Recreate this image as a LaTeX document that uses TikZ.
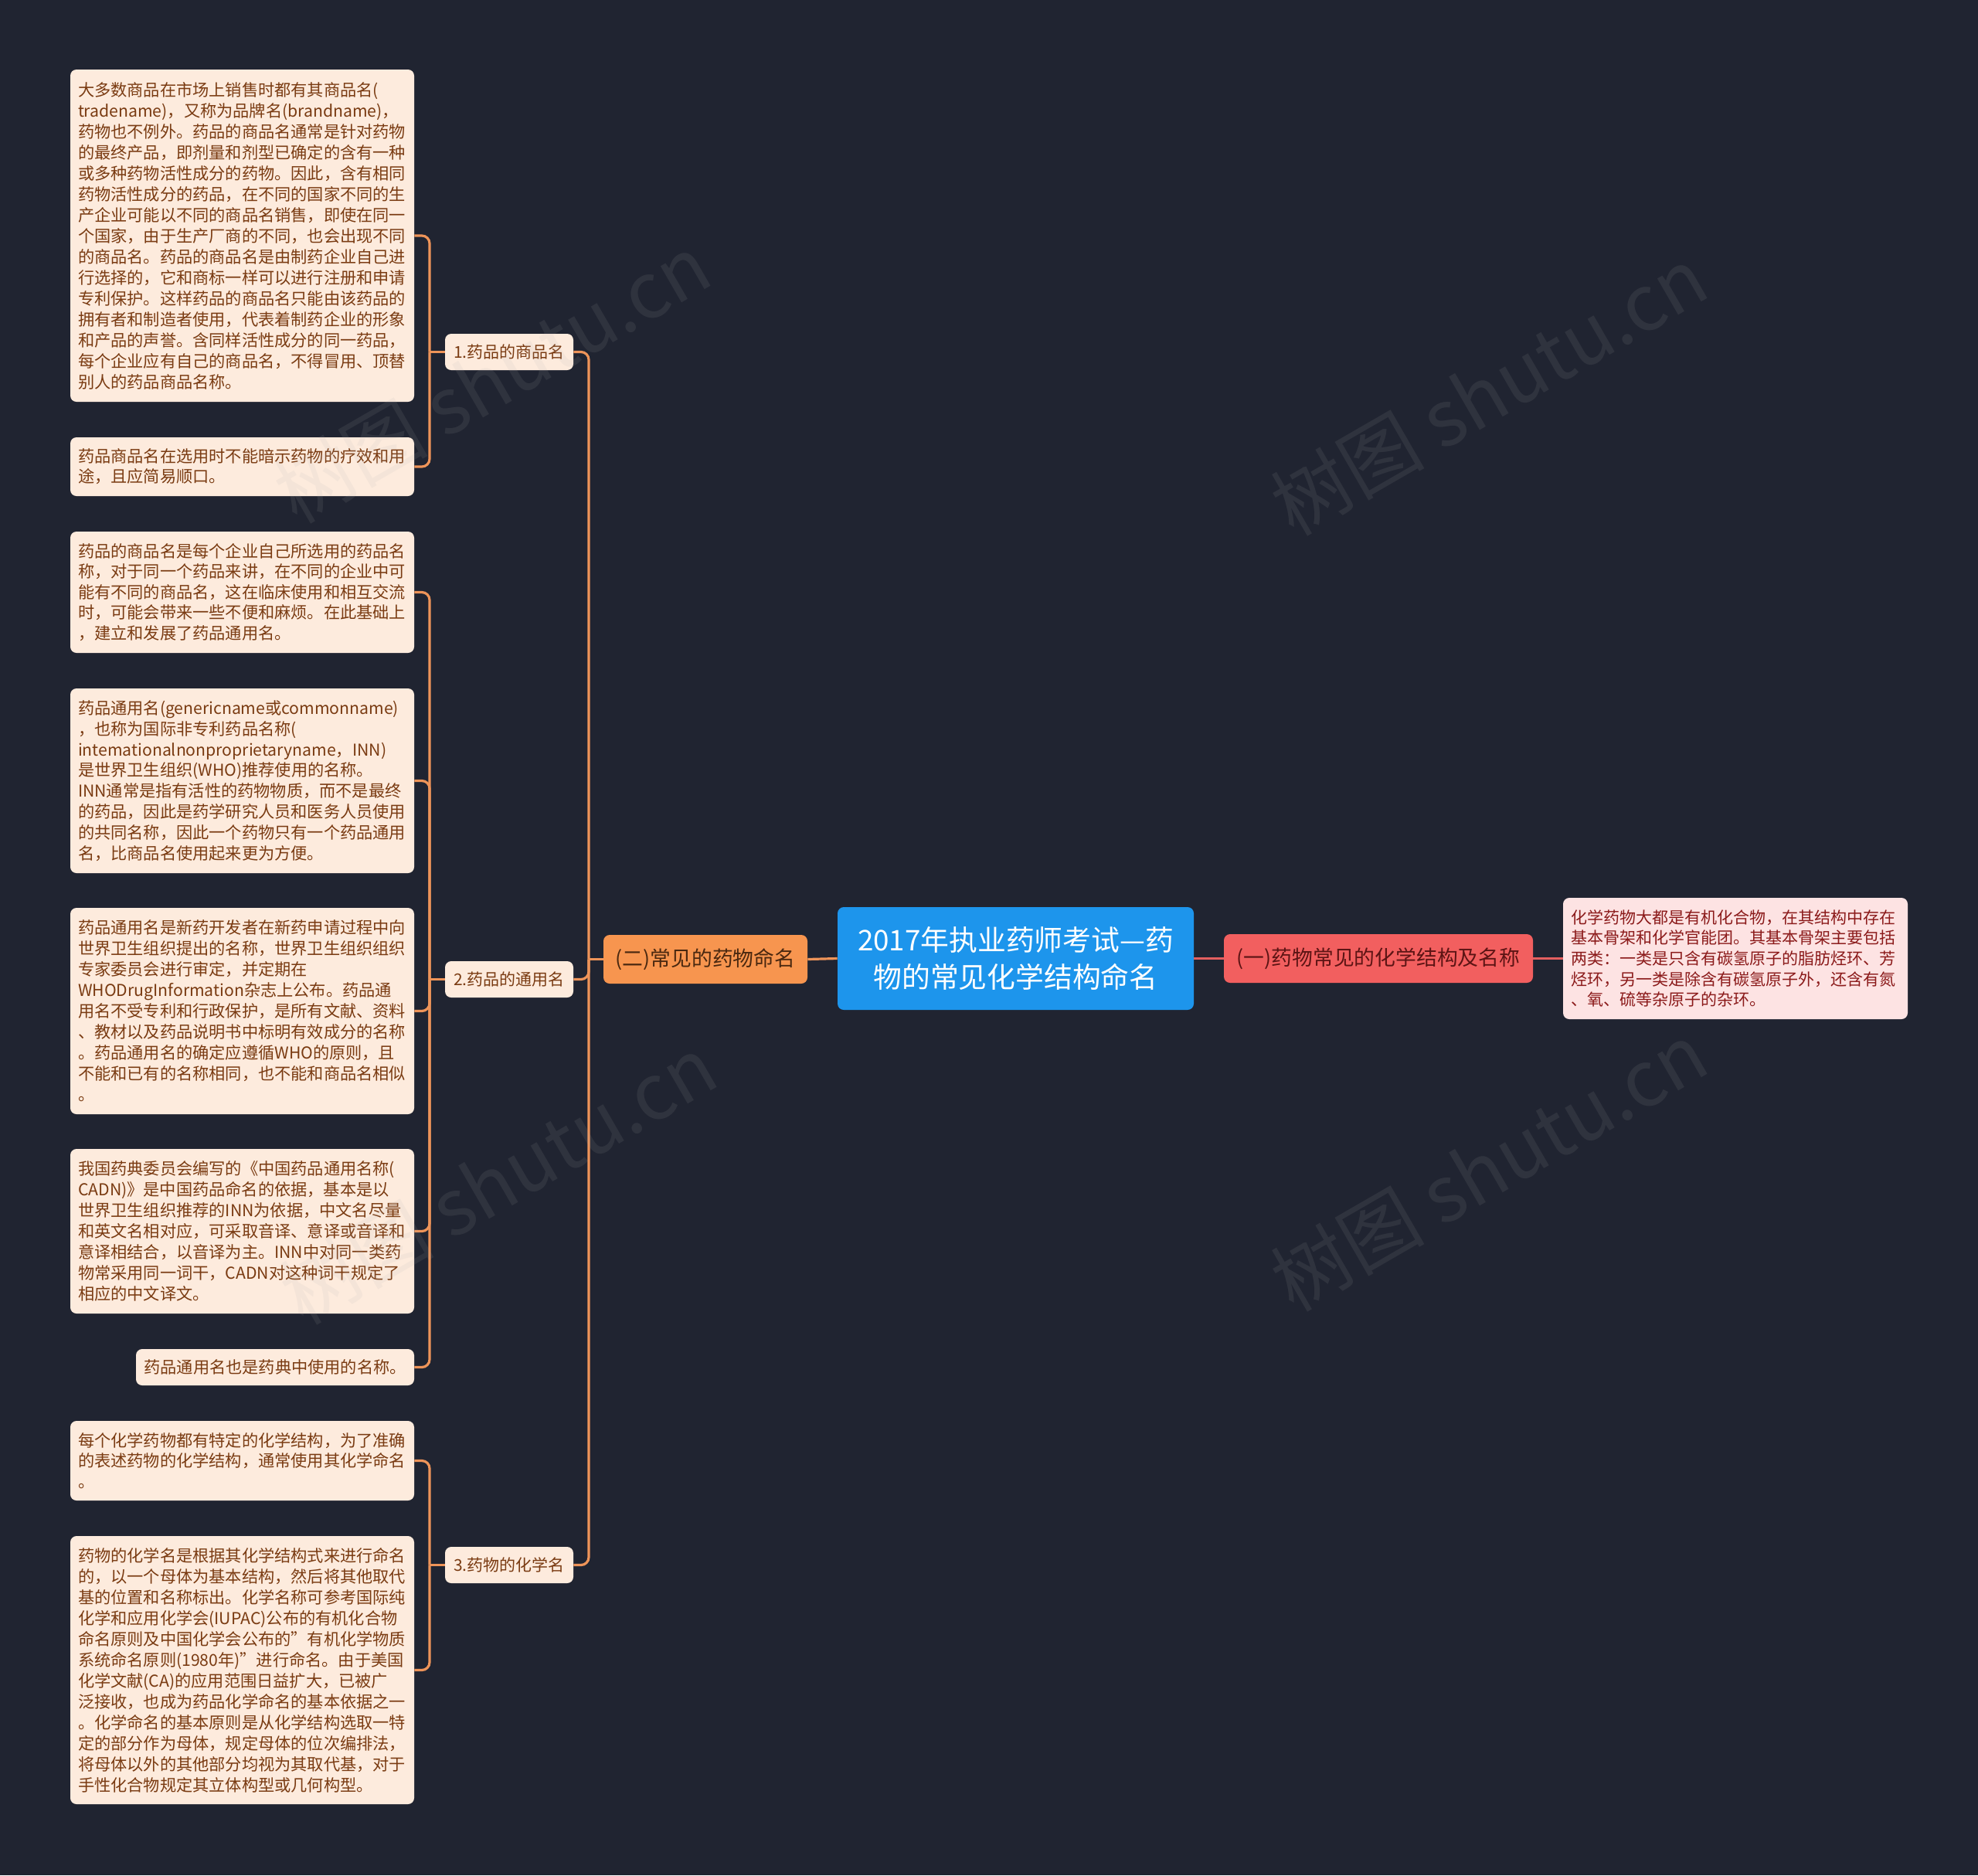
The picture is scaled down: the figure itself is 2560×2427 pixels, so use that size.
\documentclass[tikz,border=0pt]{standalone}
\usepackage{fontspec}
\setmainfont{Noto Sans CJK SC}
\definecolor{bg}{HTML}{202431}
\definecolor{leaffill}{HTML}{FDEBDD}
\definecolor{leaftext}{HTML}{7A3B12}
\definecolor{onode}{HTML}{F7954F}
\definecolor{otext}{HTML}{4A2810}
\definecolor{oline}{HTML}{EE9459}
\definecolor{bnode}{HTML}{1D95EC}
\definecolor{rnode}{HTML}{F25F5F}
\definecolor{rtext}{HTML}{5C1414}
\definecolor{rline}{HTML}{E35F5F}
\definecolor{pinkfill}{HTML}{FDE3E3}
\definecolor{pinktext}{HTML}{8B1A1A}
\definecolor{wmark}{HTML}{B0B0B0}
\tikzset{
  leaf/.style={fill=leaffill, rounded corners=4pt, text=leaftext, align=left,
    inner xsep=5pt, inner ysep=0pt, anchor=center},
  lvtwo/.style={fill=leaffill, rounded corners=4pt, text=leaftext, inner sep=0pt,
    minimum width=83pt, minimum height=23.5pt, font=\fontsize{10.5pt}{13pt}\selectfont},
  oedge/.style={draw=oline, line width=1.6pt, rounded corners=5pt},
  redge/.style={draw=rline, line width=1.4pt},
  wm/.style={text=wmark, opacity=0.11, rotate=30, font=\fontsize{50pt}{54pt}\selectfont}
}
\begin{document}
\begin{tikzpicture}[x=0.5pt,y=-0.5pt]
\useasboundingbox (0,0) rectangle (2560,2427);
\fill[bg] (0,0) rectangle (2560,2427);

% centre and main branches
\node[fill=bnode, rounded corners=4pt, text=white, align=center, inner sep=0pt,
  minimum width=230.5pt, minimum height=66.5pt,
  font=\fontsize{18.4pt}{24pt}\selectfont] (root) at (1314.5,1240.5)
  {2017年执业药师考试—药\\物的常见化学结构命名};
\node[fill=onode, rounded corners=4pt, text=otext, inner sep=0pt,
  minimum width=132pt, minimum height=31.5pt,
  font=\fontsize{13.4pt}{16pt}\selectfont] (two) at (913,1241.5) {(二)常见的药物命名};
\node[fill=rnode, rounded corners=4pt, text=rtext, inner sep=0pt,
  minimum width=200pt, minimum height=31.5pt,
  font=\fontsize{13.4pt}{16pt}\selectfont] (one) at (1784,1240.5) {(一)药物常见的化学结构及名称};
\node[fill=pinkfill, rounded corners=4pt, text=pinktext, align=left, inner xsep=5pt,
  inner ysep=0pt, text width=213pt, minimum height=78.5pt,
  font=\fontsize{10.5pt}{13.3pt}\selectfont] (R) at (2246,1240.5)
  {化学药物大都是有机化合物，在其结构中存在\\基本骨架和化学官能团。其基本骨架主要包括\\两类：一类是只含有碳氢原子的脂肪烃环、芳\\烃环，另一类是除含有碳氢原子外，还含有氮\\、氧、硫等杂原子的杂环。};

% level two
\node[lvtwo] (c1) at (659,455.5) {1.药品的商品名};
\node[lvtwo] (c2) at (659,1267.5) {2.药品的通用名};
\node[lvtwo] (c3) at (659,2025.5) {3.药物的化学名};

% leaves
\node[leaf, text width=212.5pt, minimum height=215pt, font=\fontsize{10.6pt}{13.5pt}\selectfont] (A) at (313.5,305)
{大多数商品在市场上销售时都有其商品名(\\tradename)，又称为品牌名(brandname)，\\药物也不例外。药品的商品名通常是针对药物\\的最终产品，即剂量和剂型已确定的含有一种\\或多种药物活性成分的药物。因此，含有相同\\药物活性成分的药品，在不同的国家不同的生\\产企业可能以不同的商品名销售，即使在同一\\个国家，由于生产厂商的不同，也会出现不同\\的商品名。药品的商品名是由制药企业自己进\\行选择的，它和商标一样可以进行注册和申请\\专利保护。这样药品的商品名只能由该药品的\\拥有者和制造者使用，代表着制药企业的形象\\和产品的声誉。含同样活性成分的同一药品，\\每个企业应有自己的商品名，不得冒用、顶替\\别人的药品商品名称。};
\node[leaf, text width=212.5pt, minimum height=38pt, font=\fontsize{10.6pt}{13pt}\selectfont] (B) at (313.5,604)
{药品商品名在选用时不能暗示药物的疗效和用\\途，且应简易顺口。};
\node[leaf, text width=212.5pt, minimum height=78.5pt, font=\fontsize{10.6pt}{13.3pt}\selectfont] (C) at (313.5,766.5)
{药品的商品名是每个企业自己所选用的药品名\\称，对于同一个药品来讲，在不同的企业中可\\能有不同的商品名，这在临床使用和相互交流\\时，可能会带来一些不便和麻烦。在此基础上\\，建立和发展了药品通用名。};
\node[leaf, text width=212.5pt, minimum height=119.5pt, font=\fontsize{10.6pt}{13.4pt}\selectfont] (D) at (313.5,1010.5)
{药品通用名(genericname或commonname)\\，也称为国际非专利药品名称(\\intemationalnonproprietaryname，INN)\\是世界卫生组织(WHO)推荐使用的名称。\\INN通常是指有活性的药物物质，而不是最终\\的药品，因此是药学研究人员和医务人员使用\\的共同名称，因此一个药物只有一个药品通用\\名，比商品名使用起来更为方便。};
\node[leaf, text width=212.5pt, minimum height=133.5pt, font=\fontsize{10.6pt}{13.5pt}\selectfont] (E) at (313.5,1308.5)
{药品通用名是新药开发者在新药申请过程中向\\世界卫生组织提出的名称，世界卫生组织组织\\专家委员会进行审定，并定期在\\WHODrugInformation杂志上公布。药品通\\用名不受专利和行政保护，是所有文献、资料\\、教材以及药品说明书中标明有效成分的名称\\。药品通用名的确定应遵循WHO的原则，且\\不能和已有的名称相同，也不能和商品名相似\\。};
\node[leaf, text width=212.5pt, minimum height=106.5pt, font=\fontsize{10.6pt}{13.5pt}\selectfont] (F) at (313.5,1593.5)
{我国药典委员会编写的《中国药品通用名称(\\CADN)》是中国药品命名的依据，基本是以\\世界卫生组织推荐的INN为依据，中文名尽量\\和英文名相对应，可采取音译、意译或音译和\\意译相结合，以音译为主。INN中对同一类药\\物常采用同一词干，CADN对这种词干规定了\\相应的中文译文。};
\node[leaf, text width=170pt, minimum height=23.5pt, align=center, font=\fontsize{10.6pt}{13pt}\selectfont] (G) at (356,1769.5)
{药品通用名也是药典中使用的名称。};
\node[leaf, text width=212.5pt, minimum height=51.5pt, font=\fontsize{10.6pt}{13.2pt}\selectfont] (H) at (313.5,1890.5)
{每个化学药物都有特定的化学结构，为了准确\\的表述药物的化学结构，通常使用其化学命名\\。};
\node[leaf, text width=212.5pt, minimum height=173.5pt, font=\fontsize{10.6pt}{13.5pt}\selectfont] (I) at (313.5,2161.5)
{药物的化学名是根据其化学结构式来进行命名\\的，以一个母体为基本结构，然后将其他取代\\基的位置和名称标出。化学名称可参考国际纯\\化学和应用化学会(IUPAC)公布的有机化合物\\命名原则及中国化学会公布的"有机化学物质\\系统命名原则(1980年)"进行命名。由于美国\\化学文献(CA)的应用范围日益扩大，已被广\\泛接收，也成为药品化学命名的基本依据之一\\。化学命名的基本原则是从化学结构选取一特\\定的部分作为母体，规定母体的位次编排法，\\将母体以外的其他部分均视为其取代基，对于\\手性化合物规定其立体构型或几何构型。};

% connectors
\draw[oedge] (root.west) -- (two.east);
\draw[redge] (root.east) -- (one.west);
\draw[redge] (one.east) -- (R.west);

\coordinate (bus2) at (762,1241.5);
\draw[oedge] (two.west) -- (bus2);
\foreach \c in {c1,c2,c3} \draw[oedge] (bus2) |- (\c.east);

\coordinate (bA) at (556,455.5);
\draw[oedge] (c1.west) -- (bA);
\foreach \l in {A,B} \draw[oedge] (bA) |- (\l.east);

\coordinate (bB) at (556,1267.5);
\draw[oedge] (c2.west) -- (bB);
\foreach \l in {C,D,E,F,G} \draw[oedge] (bB) |- (\l.east);

\coordinate (bC) at (556,2025.5);
\draw[oedge] (c3.west) -- (bC);
\foreach \l in {H,I} \draw[oedge] (bC) |- (\l.east);

% watermarks
\node[wm] (wm1) at (637,490) {树图 shutu.cn};
\node[wm] (wm2) at (1927,506) {树图 shutu.cn};
\node[wm] (wm3) at (645,1527) {树图 shutu.cn};
\node[wm] (wm4) at (1927,1510) {树图 shutu.cn};
\end{tikzpicture}
\end{document}
